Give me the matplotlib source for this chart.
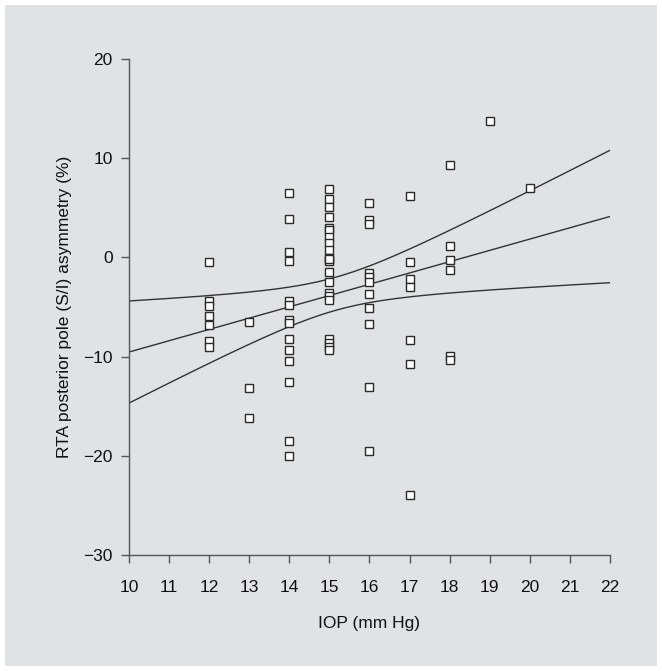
import numpy as np
import matplotlib
matplotlib.use("Agg")
import matplotlib.pyplot as plt
from matplotlib.patches import Rectangle

# === 1. Data (IOP in mm Hg, asymmetry in %) ===
iop_12 = [12] * 7
asym_12 = [-0.5, -4.4, -4.9, -5.9, -6.8, -8.4, -9.0]
iop_13 = [13] * 3
asym_13 = [-6.5, -13.2, -16.2]
iop_14 = [14] * 14
asym_14 = [6.5, 3.9, 0.5, -0.4, -4.4, -4.8, -6.3, -6.6, -8.2, -9.3, -10.4, -12.6, -18.5, -20.0]
iop_15 = [15] * 21
asym_15 = [6.9, 5.9, 5.1, 4.1, 3.0, 2.8, 2.1, 1.5, 0.7, -0.1, -0.4, -1.5, -2.5, -3.6, -3.9, -4.3,
           -8.2, -8.6, -9.0, -9.3, -0.2]
iop_16 = [16] * 11
asym_16 = [5.5, 3.8, 3.4, -1.6, -2.0, -2.5, -3.7, -5.1, -6.7, -13.1, -19.5]
iop_17 = [17] * 7
asym_17 = [6.2, -0.5, -2.2, -3.0, -8.3, -10.7, -24.0]
iop_18 = [18] * 6
asym_18 = [9.3, 1.1, -0.3, -1.3, -9.9, -10.3]
iop_19 = [19]
asym_19 = [13.8]
iop_20 = [20]
asym_20 = [7.0]

x = np.array(iop_12 + iop_13 + iop_14 + iop_15 + iop_16 + iop_17 + iop_18 + iop_19 + iop_20, float)
y = np.array(asym_12 + asym_13 + asym_14 + asym_15 + asym_16 + asym_17 + asym_18 + asym_19 + asym_20)

x_ticks = list(range(10, 23))
y_ticks = [-30, -20, -10, 0, 10, 20]

# === 2. Linear fit with 95% confidence band for the mean ===
n = len(x)
slope, intercept = np.polyfit(x, y, 1)
resid = y - (slope * x + intercept)
s = np.sqrt(np.sum(resid ** 2) / (n - 2))
t_crit = 1.995
xbar = x.mean()
sxx = np.sum((x - xbar) ** 2)

xx = np.linspace(10, 22, 200)
fit = slope * xx + intercept
hw = t_crit * s * np.sqrt(1 / n + (xx - xbar) ** 2 / sxx)

# === 3. Plot ===
plt.rcParams['font.family'] = ['Liberation Sans', 'DejaVu Sans']
fig = plt.figure(figsize=(6.62, 6.71), dpi=100)
fig.patch.set_facecolor('white')
fig.patches.append(Rectangle((5 / 662, 5 / 671), 652 / 662, 661 / 671,
                             transform=fig.transFigure, facecolor='#e1e2e4',
                             edgecolor='none', zorder=-10))

ax = fig.add_axes([129 / 662, 116 / 671, (610 - 129) / 662, (555 - 59) / 671])
ax.set_facecolor('none')

line_col = '#333333'
ax.plot(xx, fit, color=line_col, lw=1.0)
ax.plot(xx, fit + hw, color=line_col, lw=1.0)
ax.plot(xx, fit - hw, color=line_col, lw=1.0)
ax.plot(x, y, linestyle='none', marker='s', markersize=5.2, markerfacecolor='white',
        markeredgecolor='#2a2a2a', markeredgewidth=1.0, zorder=3)

ax.set_xlim(10, 22)
ax.set_ylim(-30, 20)
ax.set_xticks(x_ticks)
ax.set_yticks(y_ticks)
ax.set_yticklabels([str(v).replace('-', '\u2212') for v in y_ticks])

for side in ['top', 'right']:
    ax.spines[side].set_visible(False)
for side in ['left', 'bottom']:
    ax.spines[side].set_color('#555555')
    ax.spines[side].set_linewidth(1.0)
ax.tick_params(direction='out', length=5.8, width=1.0, color='#555555',
               labelsize=12.5, labelcolor='#111111')
ax.tick_params(axis='x', pad=12)
ax.tick_params(axis='y', pad=6)

ax.set_xlabel('IOP (mm Hg)', fontsize=12.5, color='#111111', labelpad=15)
ax.set_ylabel('RTA posterior pole (S/I) asymmetry (%)', fontsize=12.5, color='#111111', labelpad=8)

fig.savefig('out.png', dpi=100, facecolor=fig.get_facecolor())
